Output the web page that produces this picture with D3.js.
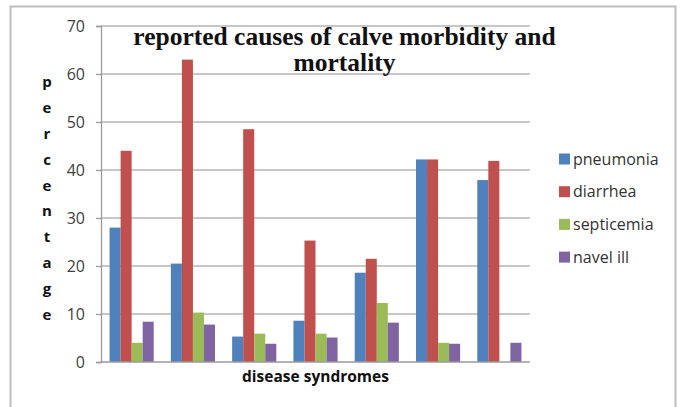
<!DOCTYPE html>
<html>
<head>
<meta charset="utf-8">
<script src="https://cdn.jsdelivr.net/npm/d3@7/dist/d3.min.js"></script>
<style>
  html, body { margin: 0; padding: 0; background: #fff; }
  svg { display: block; }
</style>
</head>
<body>
<svg id="chart" width="681" height="407"></svg>
<script>
// Disease syndrome groups (unlabelled on the axis)
const categories = ["group 1", "group 2", "group 3", "group 4", "group 5", "group 6", "group 7"];
const seriesNames = ["pneumonia", "diarrhea", "septicemia", "navel ill"];
const seriesColors = ["#4F81BD", "#C0504D", "#9BBB59", "#8064A2"];

// Percentages per series, one value per group
const pneumonia  = [28.0, 20.5, 5.3, 8.6, 18.6, 42.2, 37.9];
const diarrhea   = [44.0, 63.0, 48.5, 25.3, 21.5, 42.2, 41.9];
const septicemia = [4.0, 10.3, 5.9, 5.9, 12.3, 4.0, 0];
const navelIll   = [8.4, 7.8, 3.8, 5.1, 8.2, 3.8, 4.0];

const yTicks = [0, 10, 20, 30, 40, 50, 60, 70];
const titleLines = ["reported causes of calve morbidity and", "mortality"];
const yTitle = "percentage";
const xTitle = "disease syndromes";

const seriesValues = [pneumonia, diarrhea, septicemia, navelIll];
const rows = categories.map((c, i) => ({
  cat: c,
  vals: seriesNames.map((s, j) => ({ key: s, value: seriesValues[j][i], color: seriesColors[j] }))
}));

const svg = d3.select("#chart");
const plot = { left: 101, right: 530, top: 26, bottom: 362 };

// Outer chart frame
svg.append("rect")
  .attr("x", 10.5).attr("y", 6.5)
  .attr("width", 665).attr("height", 420)
  .attr("fill", "none").attr("stroke", "#bdbdbd").attr("stroke-width", 2);

const y = d3.scaleLinear().domain([0, 70]).range([plot.bottom, plot.top]);
const x0 = d3.scaleBand().domain(categories).range([plot.left, plot.right])
  .paddingInner(0.28).paddingOuter(0.14);
const x1 = d3.scaleBand().domain(seriesNames).range([0, x0.bandwidth()]);

// Horizontal gridlines
svg.append("g")
  .selectAll("line")
  .data(yTicks.filter(t => t > 0))
  .join("line")
  .attr("x1", plot.left).attr("x2", plot.right)
  .attr("y1", d => y(d)).attr("y2", d => y(d))
  .attr("stroke", "#b4b4b4").attr("stroke-width", 1.3);

// Bars
svg.append("g")
  .selectAll("g")
  .data(rows)
  .join("g")
  .attr("transform", d => `translate(${x0(d.cat)},0)`)
  .selectAll("rect")
  .data(d => d.vals)
  .join("rect")
  .attr("x", d => x1(d.key))
  .attr("width", x1.bandwidth())
  .attr("y", d => y(d.value))
  .attr("height", d => y(0) - y(d.value))
  .attr("fill", d => d.color);

// Y axis
const yAxis = svg.append("g")
  .attr("transform", `translate(${plot.left},0)`)
  .call(d3.axisLeft(y).tickValues(yTicks).tickSize(5).tickPadding(11).tickFormat(d3.format("d")));
yAxis.select(".domain").attr("stroke", "#9a9a9a").attr("stroke-width", 1.3);
yAxis.selectAll(".tick line").attr("stroke", "#9a9a9a").attr("stroke-width", 1.3);
yAxis.selectAll(".tick text")
  .attr("font-family", "'Open Sans', sans-serif")
  .attr("font-size", 16)
  .attr("fill", "#404040");

// X axis baseline
svg.append("line")
  .attr("x1", plot.left).attr("x2", plot.right)
  .attr("y1", y(0)).attr("y2", y(0))
  .attr("stroke", "#9a9a9a").attr("stroke-width", 1.3);

// Chart title
svg.append("g")
  .selectAll("text")
  .data(titleLines)
  .join("text")
  .attr("x", 344.5)
  .attr("y", (d, i) => 45 + i * 26)
  .attr("text-anchor", "middle")
  .attr("font-family", "'Liberation Serif', 'Times New Roman', serif")
  .attr("font-weight", "bold")
  .attr("font-size", 25.5)
  .attr("fill", "#111")
  .text(d => d);

// Vertical stacked y-axis title
svg.append("g")
  .selectAll("text")
  .data(yTitle.split(""))
  .join("text")
  .attr("x", 47)
  .attr("y", (d, i) => 81.7 + i * 25.9)
  .attr("dy", "0.35em")
  .attr("text-anchor", "middle")
  .attr("font-family", "'Open Sans', sans-serif")
  .attr("font-weight", "bold")
  .attr("font-size", 15)
  .attr("fill", "#111")
  .text(d => d);

// X-axis title
svg.append("text")
  .attr("x", (plot.left + plot.right) / 2)
  .attr("y", 382)
  .attr("text-anchor", "middle")
  .attr("font-family", "'Open Sans', sans-serif")
  .attr("font-weight", "bold")
  .attr("font-size", 15.5)
  .attr("fill", "#111")
  .text(xTitle);

// Legend
const legend = svg.append("g")
  .selectAll("g")
  .data(seriesNames)
  .join("g")
  .attr("transform", (d, i) => `translate(559,${159 + i * 32.7})`);
legend.append("rect")
  .attr("x", 0).attr("y", -5.5)
  .attr("width", 11).attr("height", 11)
  .attr("fill", (d, i) => seriesColors[i]);
legend.append("text")
  .attr("x", 14).attr("y", 0)
  .attr("dy", "0.35em")
  .attr("font-family", "'Open Sans', sans-serif")
  .attr("font-size", 16)
  .attr("fill", "#333")
  .text(d => d);
</script>
</body>
</html>
